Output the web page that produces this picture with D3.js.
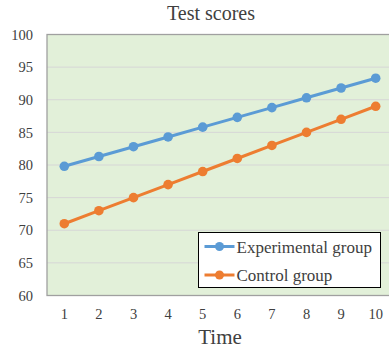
<!DOCTYPE html>
<html>
<head>
<meta charset="utf-8">
<script src="https://cdn.jsdelivr.net/npm/d3@7"></script>
<style>
  body { margin: 0; background: #fff; }
  svg { display: block; overflow: hidden; }
</style>
</head>
<body>
<div id="chart"></div>
<script>
// chart data
var times = [1, 2, 3, 4, 5, 6, 7, 8, 9, 10];
var experimental = [79.8, 81.3, 82.8, 84.3, 85.8, 87.3, 88.8, 90.3, 91.8, 93.3];
var control = [71, 73, 75, 77, 79, 81, 83, 85, 87, 89];
var yTicks = [60, 65, 70, 75, 80, 85, 90, 95, 100];
var seriesNames = ["Experimental group", "Control group"];
var colors = ["#5b9bd5", "#ed7d31"];

var svgWidth = 389;
var svgHeight = 350;
var margin = { top: 34.5, left: 47 };
var width = 346;
var height = 261;
var font = "'Liberation Serif', 'Times New Roman', serif";

var svg = d3.select("#chart")
    .append("svg")
    .attr("width", svgWidth)
    .attr("height", svgHeight);

var chartGroup = svg.append("g")
    .attr("transform", `translate(${margin.left}, ${margin.top})`);

// scales
var xScale = d3.scaleBand()
    .domain(times)
    .range([0, width]);
var yScale = d3.scaleLinear()
    .domain([60, 100])
    .range([height, 0]);

// plot background
chartGroup.append("rect")
    .attr("width", width)
    .attr("height", height)
    .attr("fill", "#e2f0d9");

// gridlines
chartGroup.selectAll(".grid")
    .data(yTicks.slice(1, -1))
    .enter()
    .append("line")
    .attr("x1", 0)
    .attr("x2", width)
    .attr("y1", d => yScale(d))
    .attr("y2", d => yScale(d))
    .attr("stroke", "#d6d6d6")
    .attr("stroke-width", 1);

// plot border
chartGroup.append("rect")
    .attr("width", width)
    .attr("height", height)
    .attr("fill", "none")
    .attr("stroke", "#a0a0a0")
    .attr("stroke-width", 1.3);

// y axis labels
var leftAxis = d3.axisLeft(yScale).tickValues(yTicks).tickSize(0).tickPadding(14);
var yAxisG = chartGroup.append("g").call(leftAxis);
yAxisG.select(".domain").remove();
yAxisG.selectAll("text")
    .attr("font-family", font)
    .attr("font-size", "14.5px")
    .attr("fill", "#404040");

// x axis labels
var bottomAxis = d3.axisBottom(xScale).tickSize(0).tickPadding(13);
var xAxisG = chartGroup.append("g")
    .attr("transform", `translate(0, ${height})`)
    .call(bottomAxis);
xAxisG.select(".domain").remove();
xAxisG.selectAll("text")
    .attr("font-family", font)
    .attr("font-size", "14.5px")
    .attr("fill", "#404040");

// lines and markers
var allSeries = [experimental, control];
var line = d3.line()
    .x((d, i) => xScale(times[i]) + xScale.bandwidth() / 2)
    .y(d => yScale(d));

allSeries.forEach((values, s) => {
    chartGroup.append("path")
        .datum(values)
        .attr("d", line)
        .attr("fill", "none")
        .attr("stroke", colors[s])
        .attr("stroke-width", 3);
    chartGroup.selectAll(".pt" + s)
        .data(values)
        .enter()
        .append("circle")
        .attr("cx", (d, i) => xScale(times[i]) + xScale.bandwidth() / 2)
        .attr("cy", d => yScale(d))
        .attr("r", 4.8)
        .attr("fill", colors[s]);
});

// title
svg.append("text")
    .attr("x", 211)
    .attr("y", 20)
    .attr("text-anchor", "middle")
    .attr("font-family", font)
    .attr("font-size", "20px")
    .attr("fill", "#404040")
    .text("Test scores");

// x axis title
svg.append("text")
    .attr("x", 220)
    .attr("y", 344)
    .attr("text-anchor", "middle")
    .attr("font-family", font)
    .attr("font-size", "21px")
    .attr("fill", "#404040")
    .text("Time");

// legend
var legend = svg.append("g").attr("transform", "translate(198.5, 232.5)");
legend.append("rect")
    .attr("width", 182)
    .attr("height", 55)
    .attr("fill", "#fff")
    .attr("stroke", "#000")
    .attr("stroke-width", 1);

seriesNames.forEach((name, i) => {
    var row = legend.append("g").attr("transform", `translate(0, ${14 + i * 28.5})`);
    row.append("line")
        .attr("x1", 6)
        .attr("x2", 36)
        .attr("stroke", colors[i])
        .attr("stroke-width", 3);
    row.append("circle")
        .attr("cx", 21)
        .attr("r", 4.5)
        .attr("fill", colors[i]);
    row.append("text")
        .attr("x", 38)
        .attr("y", 6)
        .attr("font-family", font)
        .attr("font-size", "17px")
        .attr("fill", "#404040")
        .text(name);
});
</script>
</body>
</html>
